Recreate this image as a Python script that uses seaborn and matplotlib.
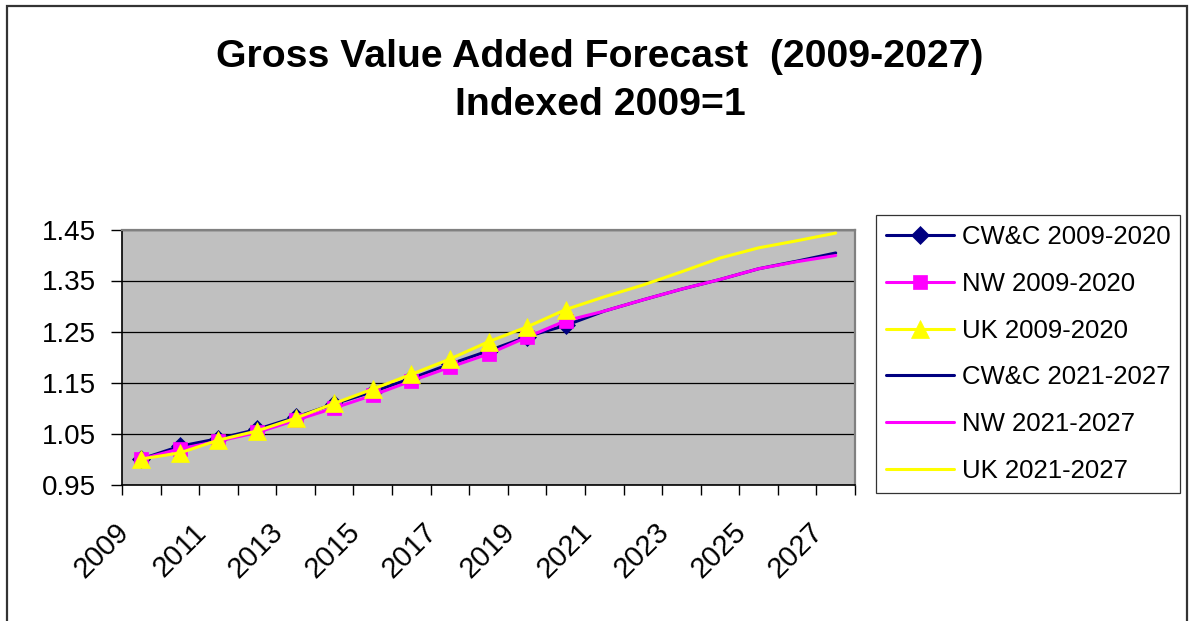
"""Gross value added forecast chart, indexed 2009=1."""

import matplotlib
matplotlib.use("Agg")
import matplotlib.pyplot as plt
import matplotlib.patches as patches
import matplotlib.transforms as mtransforms
import seaborn as sns

# historic series 2009-2020
years_hist = [2009, 2010, 2011, 2012, 2013, 2014, 2015, 2016, 2017, 2018, 2019, 2020]
cwc_hist = [1.000, 1.025, 1.040, 1.058, 1.082, 1.108, 1.132, 1.158, 1.186, 1.212, 1.240, 1.262]
nw_hist = [1.000, 1.020, 1.035, 1.052, 1.076, 1.100, 1.125, 1.153, 1.180, 1.206, 1.239, 1.271]
uk_hist = [1.000, 1.012, 1.037, 1.055, 1.080, 1.109, 1.137, 1.166, 1.196, 1.230, 1.259, 1.293]

# forecast series 2021-2027 (joined on to the 2020 value)
years_fc = [2020, 2021, 2022, 2023, 2024, 2025, 2026, 2027]
cwc_fc = [1.262, 1.290, 1.312, 1.333, 1.352, 1.373, 1.388, 1.404]
nw_fc = [1.271, 1.290, 1.312, 1.333, 1.352, 1.373, 1.387, 1.399]
uk_fc = [1.293, 1.318, 1.341, 1.367, 1.394, 1.414, 1.428, 1.443]

labels = ["CW&C 2009-2020", "NW 2009-2020", "UK 2009-2020",
          "CW&C 2021-2027", "NW 2021-2027", "UK 2021-2027"]
y_ticks = [0.95, 1.05, 1.15, 1.25, 1.35, 1.45]
x_labels = list(range(2009, 2028, 2))

NAVY = "#000080"
MAGENTA = "#FF00FF"
YELLOW = "#FFFF00"

sns.set_style("white")
plt.rcParams["font.family"] = ["Liberation Sans", "DejaVu Sans"]
plt.rcParams["text.color"] = "black"
plt.rcParams["xtick.color"] = "black"
plt.rcParams["ytick.color"] = "black"

W, H = 1190, 621
fig = plt.figure(figsize=(W / 100, H / 100), dpi=100)
fig.patch.set_facecolor("white")

# plot area in pixel coords
left, right, top, bottom = 122, 855, 229.5, 484.5
ax = fig.add_axes([left / W, 1 - bottom / H, (right - left) / W, (bottom - top) / H])
ax.set_facecolor("#C0C0C0")

series = [
    (years_hist, cwc_hist, NAVY, "D", 9, labels[0]),
    (years_hist, nw_hist, MAGENTA, "s", 10.5, labels[1]),
    (years_hist, uk_hist, YELLOW, "^", 13, labels[2]),
]
forecast = [
    (years_fc, cwc_fc, NAVY, labels[3]),
    (years_fc, nw_fc, MAGENTA, labels[4]),
    (years_fc, uk_fc, YELLOW, labels[5]),
]

# forecast lines first, so the markers sit on top
for x, y, col, lab in forecast:
    sns.lineplot(x=x, y=y, color=col, linewidth=2.2, ax=ax, label=lab, zorder=3)

for x, y, col, mk, ms, lab in series:
    sns.lineplot(x=x, y=y, color=col, linewidth=2.2, marker=mk, markersize=ms,
                 markeredgecolor=col, markeredgewidth=0.5, ax=ax, label=lab, zorder=4)

ax.get_legend().remove()

ax.set_xlim(2008.5, 2027.5)
ax.set_ylim(0.95, 1.45)
ax.set_yticks(y_ticks)
ax.set_yticklabels([f"{v:.2f}" for v in y_ticks])
ax.set_xticks(x_labels)
ax.set_xticklabels([str(v) for v in x_labels], rotation=45, ha="right", va="top")
ax.set_xticks([v + 0.5 for v in range(2008, 2028)], minor=True)

ax.tick_params(axis="y", which="major", direction="out", length=7.6, width=1,
               color="black", labelsize=20, pad=11, left=True)
ax.tick_params(axis="x", which="major", length=0, labelsize=21, pad=24, bottom=True)
ax.tick_params(axis="x", which="minor", direction="out", length=7.5, width=1,
               color="black", bottom=True)

# nudge the slanted year labels a little to the left
shift = mtransforms.ScaledTranslation(-7 / 100, 0, fig.dpi_scale_trans)
for lbl in ax.get_xticklabels():
    lbl.set_transform(lbl.get_transform() + shift)

ax.grid(axis="y", color="black", linewidth=0.9)
ax.grid(axis="x", visible=False)
ax.set_axisbelow(True)

for side in ["left", "bottom"]:
    ax.spines[side].set_color("black")
    ax.spines[side].set_linewidth(1.2)
for side in ["top", "right"]:
    ax.spines[side].set_color("#808080")
    ax.spines[side].set_linewidth(1.6)
    ax.spines[side].set_visible(True)

ax.set_xlabel("")
ax.set_ylabel("")

# legend in the original order
h_map = {l.get_label(): l for l in ax.get_lines()}
leg = fig.legend([h_map[l] for l in labels], labels,
                 loc="upper left", bbox_to_anchor=(876 / W, 1 - 215 / H),
                 fontsize=18.5, frameon=True, fancybox=False, numpoints=1,
                 handlelength=2.65, handletextpad=0.31, labelspacing=0.89,
                 borderpad=0.38, borderaxespad=0)
leg.get_frame().set_edgecolor("black")
leg.get_frame().set_linewidth(0.9)

fig.text(600 / W, 1 - 57 / H, "Gross Value Added Forecast  (2009-2027)",
         ha="center", va="center", fontsize=28.3, fontweight="bold")
fig.text(600 / W, 1 - 105 / H, "Indexed 2009=1",
         ha="center", va="center", fontsize=28.3, fontweight="bold")

# outer chart frame (runs off the bottom edge like the original)
frame = patches.Rectangle((7 / W, 1 - 640 / H), 1180 / W, 634 / H,
                          transform=fig.transFigure, fill=False,
                          edgecolor="#333333", linewidth=1.6, clip_on=False)
fig.patches.append(frame)

fig.savefig("out.png", dpi=100)
plt.close(fig)
